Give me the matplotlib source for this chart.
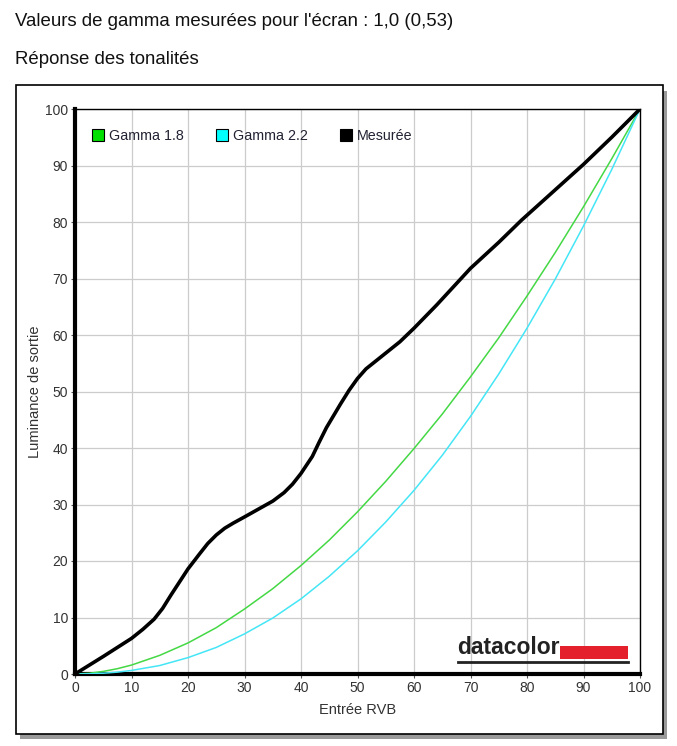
import matplotlib
matplotlib.use("Agg")
import matplotlib.pyplot as plt
from matplotlib.patches import Rectangle
from matplotlib.lines import Line2D

plt.rcParams['font.family'] = ['Liberation Sans', 'DejaVu Sans']

title = "Valeurs de gamma mesurées pour l'écran : 1,0 (0,53)"
subtitle = "Réponse des tonalités"

x_in = [0, 2.5, 5, 7.5, 10, 15, 20, 25, 30, 35, 40, 45, 50, 55, 60, 65, 70, 75, 80, 85, 90, 95, 100]
gamma18 = [0, 0.13, 0.46, 0.94, 1.58, 3.3, 5.5, 8.2, 11.5, 15.1, 19.2, 23.7, 28.7, 34.1, 39.9,
           46.0, 52.6, 59.5, 66.9, 74.6, 82.7, 91.2, 100]
gamma22 = [0, 0.03, 0.14, 0.33, 0.63, 1.5, 2.9, 4.7, 7.1, 9.9, 13.3, 17.3, 21.8, 26.9, 32.5,
           38.7, 45.6, 53.1, 61.2, 69.9, 79.3, 89.3, 100]

meas_x = [0, 5, 10, 12, 14, 15.5, 17, 20, 22, 23.5, 25, 26.5, 28, 30, 32.5, 35, 37, 38.5,
          40, 42, 43.2, 44.5, 47, 48.5, 50, 51.5, 53.5, 57.5, 60, 64, 70, 75, 79, 85, 90, 95, 100]
meas_y = [0, 3.1, 6.3, 7.9, 9.7, 11.6, 14.0, 18.6, 21.2, 23.1, 24.6, 25.8, 26.7, 27.8,
          29.2, 30.6, 32.1, 33.6, 35.5, 38.5, 41.0, 43.6, 47.8, 50.2, 52.3, 54.0, 55.6,
          58.8, 61.2, 65.3, 71.8, 76.4, 80.3, 85.7, 90.2, 95, 100]

ticks = list(range(0, 101, 10))

W, H = 677, 746
fig = plt.figure(figsize=(W / 100, H / 100), dpi=100)
fig.patch.set_facecolor("white")

# framed panel with shadow
fig.patches.append(Rectangle((20 / W, 1 - 739 / H), 647 / W, 648 / H, transform=fig.transFigure,
                             facecolor="#9a9a9a", edgecolor="none", zorder=0))
fig.patches.append(Rectangle((16 / W, 1 - 734 / H), 647 / W, 649 / H, transform=fig.transFigure,
                             facecolor="white", edgecolor="black", linewidth=1.2, zorder=1))

fig.text(15 / W, 1 - 22 / H, title, fontsize=13.4, va="center", ha="left", color="#111111")
fig.text(15 / W, 1 - 60 / H, subtitle, fontsize=13.4, va="center", ha="left", color="#111111")

ax = fig.add_axes([75 / W, 1 - 674 / H, 565 / W, 565 / H])
ax.set_zorder(2)
ax.plot(x_in, gamma18, color="#44d844", linewidth=1.1, zorder=3)
ax.plot(x_in, gamma22, color="#44e6f6", linewidth=1.1, zorder=3)
ax.plot(meas_x, meas_y, color="black", linewidth=2.6, solid_joinstyle="round",
        solid_capstyle="round", zorder=4)

ax.set_xlim(0, 100)
ax.set_ylim(0, 100)
ax.set_xticks(ticks)
ax.set_yticks(ticks)
ax.grid(True, color="#cccccc", linewidth=0.9)
ax.set_axisbelow(True)
ax.tick_params(axis="both", length=3, width=0.8, color="#555555", labelsize=10,
               labelcolor="#333333", pad=2)
for side in ["left", "bottom"]:
    ax.spines[side].set_linewidth(3.0)
for side in ["top", "right"]:
    ax.spines[side].set_linewidth(1.0)
ax.set_xlabel("Entrée RVB", fontsize=10.5, color="#333333", labelpad=6)
ax.set_ylabel("Luminance de sortie", fontsize=10.5, color="#333333", labelpad=2)

handles = [
    Line2D([], [], marker="s", linestyle="none", markersize=8, markerfacecolor="#00e000",
           markeredgecolor="black", markeredgewidth=0.8),
    Line2D([], [], marker="s", linestyle="none", markersize=8, markerfacecolor="#00ffff",
           markeredgecolor="black", markeredgewidth=0.8),
    Line2D([], [], marker="s", linestyle="none", markersize=8, markerfacecolor="black",
           markeredgecolor="black", markeredgewidth=0.8),
]
leg = ax.legend(handles, ["Gamma 1.8", "Gamma 2.2", "Mesurée"], ncol=3, frameon=False,
                loc="upper left", bbox_to_anchor=(0.008, 0.987), fontsize=10.3,
                handlelength=0.8, handletextpad=0.35, columnspacing=2.3)
for t in leg.get_texts():
    t.set_color("#222233")

# datacolor logo
ax.text(0.677, 0.036, "datacolor", transform=ax.transAxes, fontsize=16.5, fontweight="bold",
        color="#222222", ha="left", va="baseline")
ax.add_patch(Rectangle((0.858, 0.027), 0.12, 0.022, transform=ax.transAxes,
                       facecolor="#e3202c", edgecolor="none", zorder=5))
ax.add_line(Line2D([0.677, 0.978], [0.022, 0.022], transform=ax.transAxes, color="#222222",
                   linewidth=2.0, zorder=5))

fig.savefig("out.png", dpi=100)
